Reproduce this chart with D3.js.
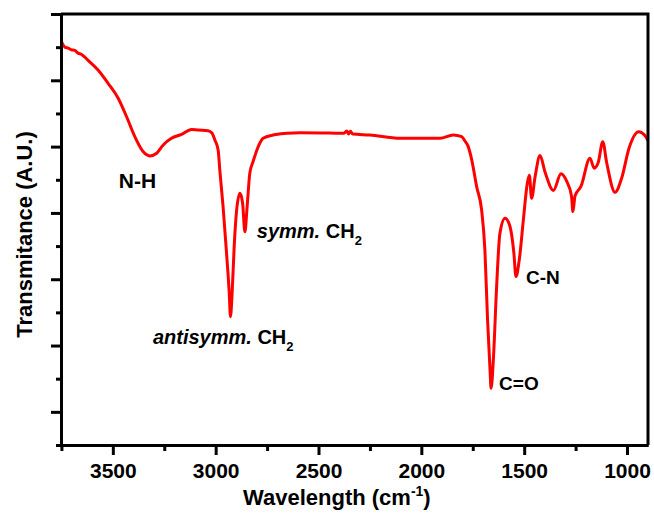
<!DOCTYPE html>
<html>
<head>
<meta charset="UTF-8">
<title>FTIR spectrum</title>
<script src="https://d3js.org/d3.v7.min.js"></script>
<style>
    body { margin: 0; background: #fff; }
    text { font-family: "Liberation Sans", Arial, sans-serif; font-weight: bold; fill: #000; }
    .axis path, .axis line { stroke: #000; stroke-width: 3px; }
</style>
</head>
<body>
<script>
    // wavenumber (cm-1) and transmittance (a.u.)
    const wavenumber = [3750, 3733, 3717, 3701, 3685, 3669, 3652, 3636, 3620, 3572, 3523, 3474, 3433, 3393, 3353,
        3320, 3287, 3255, 3215, 3166, 3117, 3085, 3037, 3018, 3004, 2988, 2980, 2964, 2947, 2934, 2928, 2920,
        2910, 2898, 2882, 2869, 2858, 2847, 2834, 2818, 2793, 2769, 2720, 2655, 2590, 2445, 2376, 2363, 2354,
        2345, 2333, 2250, 2104, 2007, 1909, 1845, 1804, 1788, 1772, 1755, 1731, 1707, 1691, 1678, 1666, 1661,
        1650, 1634, 1618, 1593, 1569, 1550, 1540, 1524, 1504, 1485, 1475, 1464, 1447, 1423, 1399, 1358, 1321,
        1293, 1270, 1263, 1253, 1224, 1180, 1160, 1140, 1118, 1099, 1058, 1026, 990, 943, 915, 895];
    const transmittance = [12.17, 12.00, 11.97, 11.92, 11.90, 11.82, 11.78, 11.70, 11.60, 11.31, 10.91, 10.46, 9.90,
        9.30, 8.85, 8.72, 8.80, 9.05, 9.25, 9.37, 9.52, 9.50, 9.48, 9.41, 9.20, 8.90, 8.30, 7.19, 5.78, 4.58, 3.87,
        4.58, 5.98, 7.09, 7.59, 7.29, 6.43, 7.19, 8.20, 8.55, 9.00, 9.25, 9.35, 9.40, 9.42, 9.41, 9.40, 9.47, 9.38,
        9.46, 9.38, 9.35, 9.25, 9.25, 9.25, 9.35, 9.30, 9.17, 9.00, 8.60, 7.79, 7.09, 5.88, 3.77, 2.26, 1.71, 2.56,
        4.78, 6.39, 6.84, 6.59, 5.78, 5.08, 5.58, 6.79, 7.89, 8.14, 7.44, 8.09, 8.73, 8.24, 7.68, 8.18, 7.95, 7.51,
        7.04, 7.51, 7.80, 8.65, 8.35, 8.52, 9.15, 8.52, 7.62, 8.05, 8.96, 9.45, 9.35, 9.15];

    const xMajorTicks = [3500, 3000, 2500, 2000, 1500, 1000];
    const xMinorTicks = [3750, 3250, 2750, 2250, 1750, 1250];
    const yMajorTicks = [1, 3, 5, 7, 9, 11, 13];
    const yMinorTicks = [0, 2, 4, 6, 8, 10, 12];

    // band assignments, placed in data units (wavenumber, transmittance)
    const bandNames = ["N-H", "symm.", "antisymm.", "C-N", "C=O"];
    const bandTail = ["", " CH", " CH", "", ""];
    const bandAt = [[3471, 7.75], [2800, 6.24], [3305, 3.05], [1491, 4.86], [1622, 1.66]];

    const width = 654;
    const height = 519;
    const marginTop = 14;
    const marginRight = 6;
    const marginBottom = 74;
    const marginLeft = 61;

    const svg = d3.select('body')
        .append('svg')
        .attr('width', width)
        .attr('height', height);

    const x = d3.scaleLinear()
        .domain([3752, 898])
        .range([marginLeft, width - marginRight]);

    const y = d3.scaleLinear()
        .domain([0, 13])
        .range([height - marginBottom, marginTop]);

    svg.append('clipPath').attr('id', 'plot')
        .append('rect')
        .attr('x', marginLeft).attr('y', marginTop)
        .attr('width', width - marginLeft - marginRight)
        .attr('height', height - marginTop - marginBottom);

    const data = wavenumber.map((w, i) => [w, transmittance[i]]);

    const line = d3.line()
        .x(d => x(d[0]))
        .y(d => y(d[1]))
        .curve(d3.curveMonotoneX);

    svg.append('path')
        .datum(data)
        .attr('clip-path', 'url(#plot)')
        .attr('fill', 'none')
        .attr('stroke', '#ff0000')
        .attr('stroke-width', 3)
        .attr('stroke-linejoin', 'round')
        .attr('d', line);

    // x axis
    svg.append('g')
        .attr('class', 'axis')
        .attr('transform', `translate(0, ${height - marginBottom})`)
        .call(d3.axisBottom(x).tickValues(xMinorTicks).tickSize(6).tickSizeOuter(0).tickFormat(''));

    const xAxis = svg.append('g')
        .attr('class', 'axis')
        .attr('transform', `translate(0, ${height - marginBottom})`)
        .call(d3.axisBottom(x).tickValues(xMajorTicks).tickSize(10).tickSizeOuter(0).tickFormat(d3.format('d')));
    xAxis.selectAll('text')
        .attr('y', 33)
        .attr('dy', 0)
        .style('font-size', '21px');

    // y axis, no labels
    svg.append('g')
        .attr('class', 'axis')
        .attr('transform', `translate(${marginLeft}, 0)`)
        .call(d3.axisLeft(y).tickValues(yMinorTicks).tickSize(5).tickSizeOuter(0).tickFormat(''));
    svg.append('g')
        .attr('class', 'axis')
        .attr('transform', `translate(${marginLeft}, 0)`)
        .call(d3.axisLeft(y).tickValues(yMajorTicks).tickSize(10).tickSizeOuter(0).tickFormat(''));

    // frame top and right
    svg.append('path')
        .attr('fill', 'none')
        .attr('stroke', '#000')
        .attr('stroke-width', 3)
        .attr('d', `M${marginLeft},${marginTop}H${width - marginRight}V${height - marginBottom}`);

    // axis titles
    const xTitle = svg.append('text')
        .attr('x', 243)
        .attr('y', 505)
        .style('font-size', '22px');
    xTitle.append('tspan').text('Wavelength (cm');
    xTitle.append('tspan').attr('dy', -9).style('font-size', '14px').text('-1');
    xTitle.append('tspan').attr('dy', 9).text(')');

    svg.append('text')
        .attr('transform', `translate(32, ${(marginTop + height - marginBottom) / 2 + 5}) rotate(-90)`)
        .attr('text-anchor', 'middle')
        .style('font-size', '22px')
        .text('Transmitance (A.U.)');

    // band labels
    bandNames.forEach((name, i) => {
        const t = svg.append('text')
            .attr('x', x(bandAt[i][0]))
            .attr('y', y(bandAt[i][1]))
            .style('font-size', bandTail[i] ? '20px' : (i === 0 ? '21px' : '19px'));
        if (bandTail[i]) {
            t.append('tspan').style('font-style', 'italic').text(name);
            t.append('tspan').text(bandTail[i]);
            t.append('tspan').attr('dy', 7).style('font-size', '13px').text('2');
        } else {
            t.text(name);
        }
    });
</script>
</body>
</html>
